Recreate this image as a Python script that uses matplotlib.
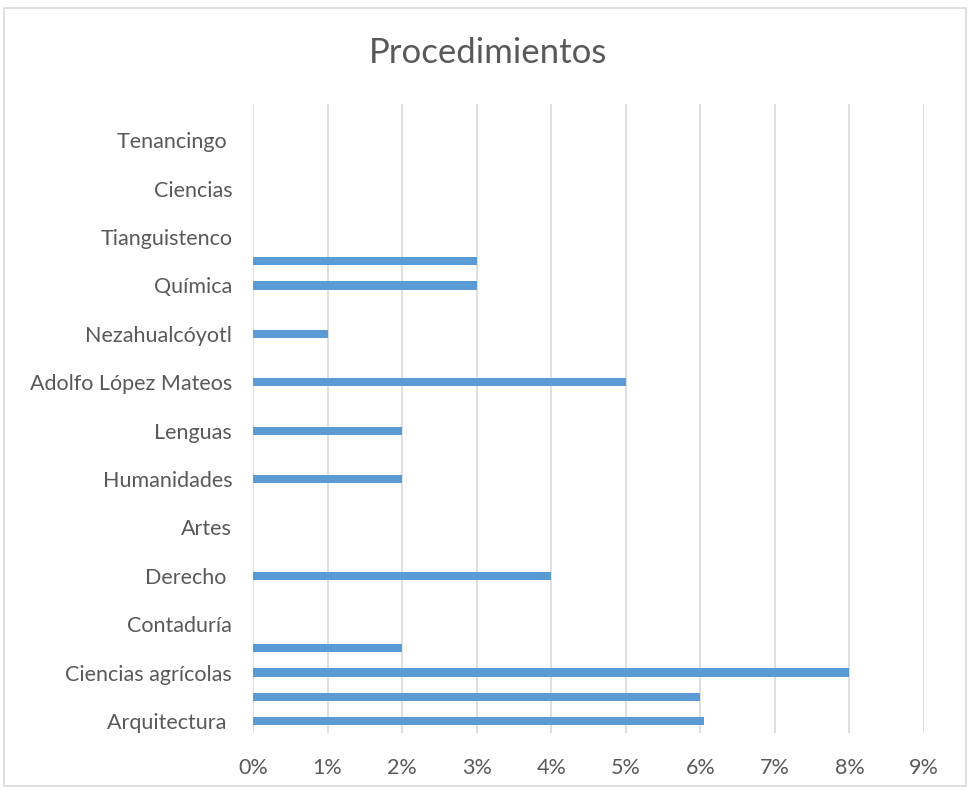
import numpy as np
import matplotlib
matplotlib.use("Agg")
import matplotlib.pyplot as plt
from matplotlib.patches import Rectangle
from matplotlib.ticker import PercentFormatter

plt.rcParams['font.family'] = ['Lato', 'DejaVu Sans']

# categories from bottom to top (Excel hides every other label)
categorias = ["Arquitectura ", "", "Ciencias agrícolas", "", "Contaduría", "",
              "Derecho ", "", "Artes", "", "Humanidades", "", "Lenguas", "",
              "Adolfo López Mateos", "", "Nezahualcóyotl", "", "Química", "",
              "Tianguistenco", "", "Ciencias", "", "Tenancingo ", ""]
valores = [6.05, 6, 8, 2, 0, 0, 4, 0, 0, 0, 2, 0, 2, 0,
           5, 0, 1, 0, 3, 3, 0, 0, 0, 0, 0, 0]
x_ticks = np.arange(0, 10)

gris = "#595959"

fig = plt.figure(figsize=(9.72, 7.91), dpi=100)
ax = fig.add_axes([0.2603, 0.0733, 0.6903, 0.7952])

y = np.arange(len(categorias))
ax.barh(y, valores, height=0.34, color="#5b9bd5", zorder=3)

ax.set_xlim(0, 9)
ax.set_ylim(-0.5, len(categorias) - 0.5)
ax.set_xticks(x_ticks)
ax.xaxis.set_major_formatter(PercentFormatter(decimals=0))
ax.set_yticks(y[::2])
ax.set_yticklabels(categorias[::2])

ax.grid(axis="x", color="#d9d9d9", linewidth=1.2, zorder=0)
for s in ax.spines.values():
    s.set_visible(False)
ax.tick_params(axis="both", length=0, labelsize=15.5, labelcolor=gris)
ax.tick_params(axis="x", pad=18)
ax.tick_params(axis="y", pad=15)

fig.text(0.502, 0.933, "Procedimientos", ha="center", va="center",
         fontsize=25, color=gris)

# outer chart border
fig.patches.append(Rectangle((0.004, 0.006), 0.99, 0.984, transform=fig.transFigure,
                             fill=False, edgecolor="#d9d9d9", linewidth=1.2))

fig.savefig("out.png", dpi=100)
